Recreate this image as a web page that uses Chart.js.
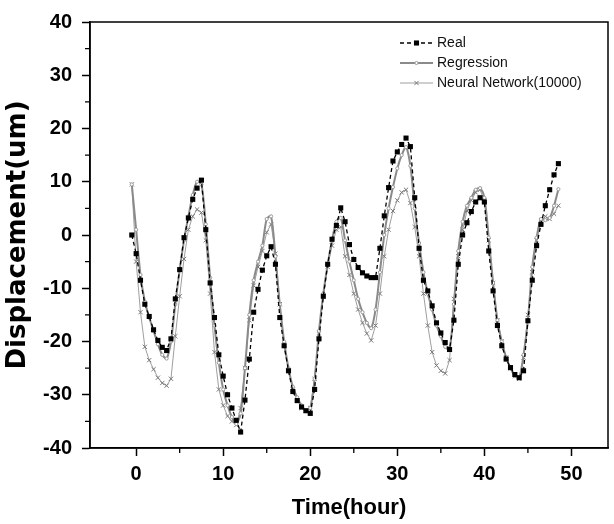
<!DOCTYPE html>
<html>
<head>
<meta charset="utf-8">
<script src="https://cdn.jsdelivr.net/npm/chart.js@4.4.0/dist/chart.umd.min.js"></script>
<style>
  html, body { margin: 0; padding: 0; background: #fff; }
</style>
</head>
<body>
<canvas id="dispChart" width="614" height="524"></canvas>
<script>

const hours = [
    -0.5, 0, 0.5, 1, 1.5, 2, 2.5, 3, 3.5, 4,
    4.5, 5, 5.5, 6, 6.5, 7, 7.5, 8, 8.5, 9,
    9.5, 10, 10.5, 11, 11.5, 12, 12.5, 13, 13.5, 14,
    14.5, 15, 15.5, 16, 16.5, 17, 17.5, 18, 18.5, 19,
    19.5, 20, 20.5, 21, 21.5, 22, 22.5, 23, 23.5, 24,
    24.5, 25, 25.5, 26, 26.5, 27, 27.5, 28, 28.5, 29,
    29.5, 30, 30.5, 31, 31.5, 32, 32.5, 33, 33.5, 34,
    34.5, 35, 35.5, 36, 36.5, 37, 37.5, 38, 38.5, 39,
    39.5, 40, 40.5, 41, 41.5, 42, 42.5, 43, 43.5, 44,
    44.5, 45, 45.5, 46, 46.5, 47, 47.5, 48, 48.5
];

const realDisp = [
    0, -3.5, -8.5, -13, -15.3, -17.8, -19.8, -21.1, -21.7, -19.5,
    -12, -6.5, -0.5, 3.2, 6.7, 8.8, 10.3, 1, -9, -15.5,
    -22.5, -26.5, -30, -32.5, -34.8, -37, -31, -23.3, -14.5, -10.2,
    -6.6, -3.9, -2.2, -5.5, -15.5, -20.8, -25.5, -29.4, -31.1, -32.3,
    -33, -33.5, -29, -19.5, -11.5, -5.5, -0.8, 1.8, 5.1, 2.5,
    -1.8, -4.6, -6.1, -7.1, -7.7, -8, -8, -2.5, 3.6, 8.9,
    13.9, 15.6, 17, 18.2, 16.6, 7, -2.5, -8.5, -10.5, -13.3,
    -16.5, -18.4, -20.2, -21.5, -16, -5.5, 0, 2.3, 4.4, 6.2,
    7, 6.2, -3, -10.5, -17, -20.8, -23.3, -24.9, -26.2, -26.8,
    -25.5, -16.1, -8.5, -2, 2, 5.5, 8.5, 11.3, 13.4
];

const regressionDisp = [
    9.5, 1, -7.5, -12.5, -15.5, -18, -20.5, -22.5, -23.2, -20,
    -13, -6.5, -1, 3.5, 7.5, 10, 9.5, 2, -8, -17,
    -24, -29, -32, -34.2, -35.5, -33.5, -25, -15, -8.5, -5,
    -2, 3, 3.5, -4, -13, -20, -25, -28.5, -30.5, -32,
    -33, -32.5, -27, -18, -11, -5.5, -1, 2.5, 3.2, -1,
    -5, -8.5, -12, -14.5, -16.5, -17.5, -14, -7, 0, 5,
    9, 12.5, 15, 16.5, 13, 5, -1.5, -7, -11, -14,
    -17, -19, -21, -21.5, -13, -3, 2.5, 5.5, 7, 8.5,
    8.8, 7, -0.5, -9, -16, -20, -23, -25, -26.5, -26.8,
    -22.5, -16, -6, -0.5, 3, 2.8, 3.2, 5.5, 8.6
];

const neuralDisp = [
    9.5, -5, -14.5, -21, -23.5, -25.2, -26.8, -27.8, -28.3, -27,
    -19, -11.5, -4.5, 1, 3.5, 4.8, 4.2, -1, -11, -22,
    -29, -32, -34, -35, -35.7, -32.5, -25, -16, -9.5, -6,
    -3, 0.5, 2, -3.5, -13, -20.5, -25.5, -29, -31, -32.5,
    -33, -32.5, -27, -18.5, -11.5, -6, -2, 1, 1.5, -4,
    -7.5, -11, -14, -16.5, -18.5, -19.8, -17, -11, -4, 1,
    4.5, 6.5, 8, 8.5, 6, 1.5, -4, -11, -17, -22,
    -24.5, -25.5, -26, -23.5, -12, -4, 1, 4.5, 6.5, 8,
    8.5, 6.5, -1, -9, -16, -20, -23, -25, -26.5, -27,
    -23, -15, -7, -1, 2.5, 3.5, 3, 4, 5.5
];

const seriesNames = ['Real', 'Regression', 'Neural Network(10000)'];
const xTicks = [0, 10, 20, 30, 40, 50];
const xMinorTicks = [5, 15, 25, 35, 45];
const yTicks = [-40, -30, -20, -10, 0, 10, 20, 30, 40];
const yMinorTicks = [-35, -25, -15, -5, 5, 15, 25, 35];

const tickFont = { family: "'Liberation Sans', Arial, sans-serif", weight: 'bold', size: 20 };

function toPoints(values) {
    return hours.map((h, i) => ({ x: h, y: values[i] }));
}

// box round the plot, short minor ticks, and the legend inside the plot
const framePlugin = {
    id: 'frame',
    afterDraw(chart) {
        const { ctx, chartArea: a, scales } = chart;
        ctx.save();
        ctx.strokeStyle = '#000';
        ctx.lineWidth = 1.5;
        ctx.strokeRect(a.left, a.top, a.right - a.left, a.bottom - a.top);

        ctx.lineWidth = 1.3;
        ctx.beginPath();
        xMinorTicks.forEach(v => {
            const px = scales.x.getPixelForValue(v);
            ctx.moveTo(px, a.bottom);
            ctx.lineTo(px, a.bottom + 5);
        });
        yMinorTicks.forEach(v => {
            const py = scales.y.getPixelForValue(v);
            ctx.moveTo(a.left, py);
            ctx.lineTo(a.left - 5, py);
        });
        ctx.stroke();

        // legend
        const x0 = 400, x1 = 433, textX = 437;
        const rows = [43, 63, 83];
        ctx.font = "14px 'Liberation Sans', Arial, sans-serif";
        ctx.textBaseline = 'middle';
        chart.data.datasets.forEach((ds, i) => {
            const y = rows[i];
            ctx.strokeStyle = ds.borderColor;
            ctx.lineWidth = ds.borderWidth;
            ctx.setLineDash(ds.borderDash || []);
            ctx.beginPath();
            ctx.moveTo(x0, y);
            ctx.lineTo(x1, y);
            ctx.stroke();
            ctx.setLineDash([]);
            ctx.fillStyle = ds.pointBackgroundColor;
            ctx.strokeStyle = ds.pointBorderColor;
            ctx.lineWidth = ds.pointBorderWidth;
            Chart.helpers.drawPoint(ctx, {
                pointStyle: ds.pointStyle,
                radius: ds.pointRadius,
                rotation: 0,
                borderWidth: ds.pointBorderWidth
            }, (x0 + x1) / 2, y);
            ctx.fillStyle = '#111';
            ctx.fillText(ds.label, textX, y);
        });
        ctx.restore();
    }
};

const ctx = document.getElementById('dispChart').getContext('2d');

new Chart(ctx, {
    type: 'line',
    data: {
        datasets: [{
            label: seriesNames[0],
            data: toPoints(realDisp),
            borderColor: '#000000',
            borderWidth: 1.3,
            borderDash: [4, 3],
            pointStyle: 'rect',
            pointRadius: 3.6,
            pointBackgroundColor: '#000000',
            pointBorderColor: '#000000',
            pointBorderWidth: 0,
            tension: 0
        }, {
            label: seriesNames[1],
            data: toPoints(regressionDisp),
            borderColor: '#8a8a8a',
            borderWidth: 2,
            pointStyle: 'circle',
            pointRadius: 1.6,
            pointBackgroundColor: '#ffffff',
            pointBorderColor: '#9a9a9a',
            pointBorderWidth: 1,
            tension: 0.3
        }, {
            label: seriesNames[2],
            data: toPoints(neuralDisp),
            borderColor: '#9e9e9e',
            borderWidth: 1,
            pointStyle: 'crossRot',
            pointRadius: 3,
            pointBackgroundColor: '#777777',
            pointBorderColor: '#777777',
            pointBorderWidth: 1,
            tension: 0
        }]
    },
    options: {
        responsive: false,
        animation: false,
        layout: {
            padding: { left: 0, top: 20, right: 6, bottom: 0 }
        },
        scales: {
            x: {
                type: 'linear',
                min: -5.3,
                max: 54.2,
                afterBuildTicks: scale => { scale.ticks = xTicks.map(v => ({ value: v })); },
                afterFit: scale => { scale.height = 76; },
                ticks: {
                    color: '#000',
                    font: tickFont,
                    padding: 6,
                    maxRotation: 0
                },
                grid: {
                    drawOnChartArea: false,
                    tickLength: 8,
                    tickColor: '#000',
                    tickWidth: 1.5
                },
                border: { color: '#000', width: 1.5 },
                title: {
                    display: true,
                    text: 'Time(hour)',
                    color: '#000',
                    font: { family: "'Liberation Sans', Arial, sans-serif", weight: 'bold', size: 22 },
                    padding: { top: 0, bottom: 3 }
                }
            },
            y: {
                min: -40,
                max: 40,
                afterBuildTicks: scale => { scale.ticks = yTicks.map(v => ({ value: v })); },
                afterFit: scale => { scale.width = 90; },
                ticks: {
                    color: '#000',
                    font: tickFont,
                    padding: 10
                },
                grid: {
                    drawOnChartArea: false,
                    tickLength: 8,
                    tickColor: '#000',
                    tickWidth: 1.5
                },
                border: { color: '#000', width: 1.5 },
                title: {
                    display: true,
                    text: 'Displacement(um)',
                    color: '#000',
                    font: { family: "'DejaVu Sans', sans-serif", weight: 'bold', size: 26 },
                    padding: { top: 3, bottom: 0 }
                }
            }
        },
        plugins: {
            legend: { display: false },
            tooltip: { enabled: false }
        }
    },
    plugins: [framePlugin]
});
</script>
</body>
</html>
